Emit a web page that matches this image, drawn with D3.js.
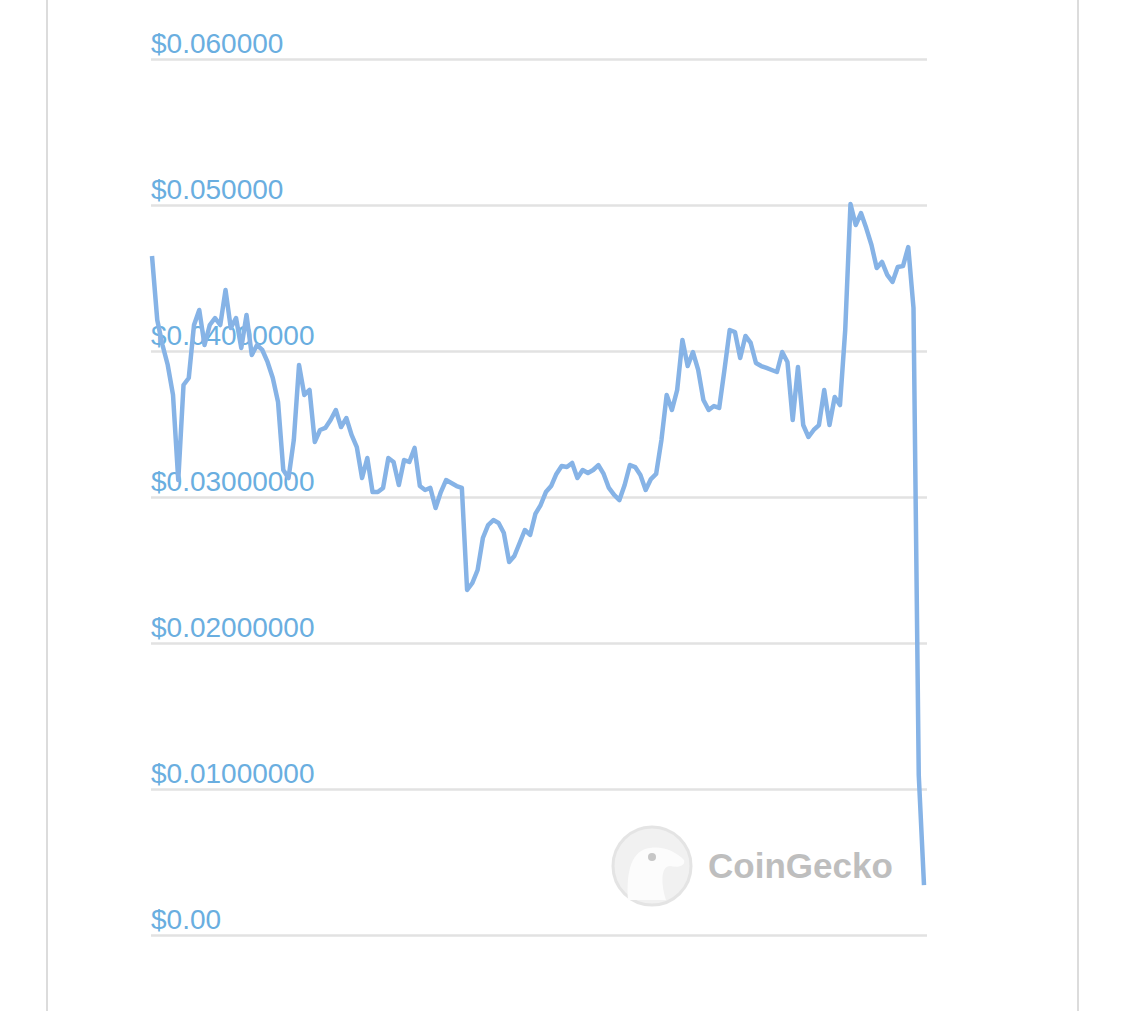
<!DOCTYPE html>
<html><head><meta charset="utf-8">
<script src="https://cdn.jsdelivr.net/npm/d3@7"></script>
<style>body{margin:0;background:#fff}svg{display:block}</style>
</head><body><div id="chart"></div>
<script>
var tickValues = [0, 0.01, 0.02, 0.03, 0.04, 0.05, 0.06];
var tickLabels = ["$0.00", "$0.01000000", "$0.02000000", "$0.03000000", "$0.04000000", "$0.050000", "$0.060000"];
var prices = [0.04651,0.04212,0.04041,0.03904,0.03699,0.03116,0.03767,0.03815,0.04178,0.04281,
0.04041,0.04178,0.04226,0.04178,0.04418,0.04158,0.04226,0.04021,0.04247,0.03973,
0.04041,0.04007,0.03925,0.03815,0.03651,0.03185,0.03130,0.03390,0.03904,0.03699,
0.03733,0.03377,0.03459,0.03473,0.03527,0.03596,0.03479,0.03541,0.03425,0.03342,
0.03130,0.03267,0.03034,0.03034,0.03062,0.03267,0.03240,0.03082,0.03253,0.03240,
0.03336,0.03075,0.03048,0.03062,0.02925,0.03034,0.03116,0.03096,0.03075,0.03062,
0.02363,0.02411,0.02500,0.02719,0.02808,0.02842,0.02822,0.02753,0.02555,0.02596,
0.02685,0.02774,0.02740,0.02884,0.02945,0.03034,0.03075,0.03158,0.03212,0.03205,
0.03233,0.03130,0.03185,0.03164,0.03185,0.03219,0.03158,0.03062,0.03014,0.02979,
0.03082,0.03219,0.03205,0.03151,0.03048,0.03123,0.03158,0.03390,0.03699,0.03596,
0.03733,0.04075,0.03897,0.03993,0.03870,0.03664,0.03596,0.03623,0.03610,0.03870,
0.04144,0.04130,0.03952,0.04103,0.04055,0.03918,0.03897,0.03884,0.03870,0.03856,
0.03993,0.03925,0.03527,0.03890,0.03493,0.03411,0.03459,0.03493,0.03733,0.03493,
0.03685,0.03630,0.04144,0.05007,0.04863,0.04945,0.04842,0.04726,0.04568,0.04610,
0.04521,0.04473,0.04575,0.04582,0.04712,0.04295,0.01096,0.00342];

var width = 1125, height = 1011;
var svg = d3.select("#chart").append("svg").attr("width", width).attr("height", height);

// frame lines on the sides
svg.append("line").attr("x1", 47).attr("x2", 47).attr("y1", 0).attr("y2", height)
    .attr("stroke", "#dcdcdc").attr("stroke-width", 2);
svg.append("line").attr("x1", 1078).attr("x2", 1078).attr("y1", 0).attr("y2", height)
    .attr("stroke", "#dcdcdc").attr("stroke-width", 2);

var x = d3.scaleLinear().domain([0, prices.length - 1]).range([152, 924]);
var y = d3.scaleLinear().domain([0, 0.06]).range([935, 59]);

var grid = svg.append("g").attr("transform", "translate(151,0)")
    .call(d3.axisRight(y).tickValues(tickValues).tickSize(776).tickFormat(""));
grid.select(".domain").remove();
grid.selectAll("line").attr("stroke", "#e2e2e2").attr("stroke-width", 2.5);

// CoinGecko watermark
var logo = svg.append("g").attr("opacity", 0.55);
logo.append("circle").attr("cx", 652).attr("cy", 866).attr("r", 39)
    .attr("fill", "#e6e6e6").attr("stroke", "#cfcfcf").attr("stroke-width", 3);
logo.append("path").attr("d", "M628,900 C626,870 632,850 650,848 C664,846 676,852 684,860 C686,866 678,868 670,866 C662,866 660,880 666,900 Z")
    .attr("fill", "#fafafa");
logo.append("circle").attr("cx", 652).attr("cy", 857).attr("r", 4).attr("fill", "#9a9a9a");
logo.append("text").attr("x", 708).attr("y", 878).text("CoinGecko")
    .attr("font-family", "Liberation Sans, Arial, sans-serif").attr("font-size", 35)
    .attr("font-weight", "bold").attr("fill", "#8a8a8a");

svg.selectAll(".ylab").data(tickValues).enter().append("text")
    .attr("class", "ylab")
    .attr("x", 151).attr("y", function (d) { return y(d) - 6; })
    .attr("font-family", "Liberation Sans, Arial, sans-serif").attr("font-size", 28)
    .attr("fill", "#6aaee0")
    .text(function (d, i) { return tickLabels[i]; });

var line = d3.line().x(function (d, i) { return x(i); }).y(function (d) { return y(d); });
svg.append("path").datum(prices).attr("d", line)
    .attr("fill", "none").attr("stroke", "#86b3e6").attr("stroke-width", 4.5)
    .attr("stroke-linejoin", "round");
</script>
</body></html>
